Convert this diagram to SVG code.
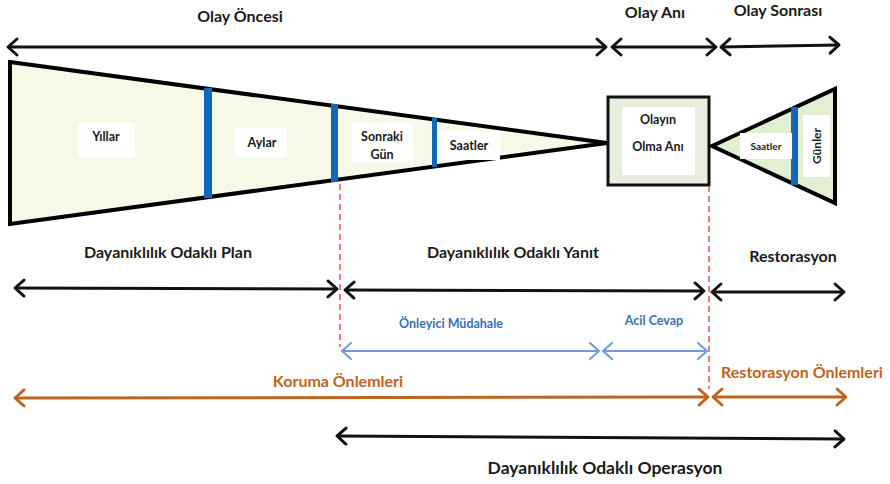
<svg xmlns="http://www.w3.org/2000/svg" width="890" height="484" viewBox="0 0 890 484">
<style>
text{font-family:Lato,"Open Sans","Liberation Sans",sans-serif;font-weight:bold;text-anchor:middle}
.blk{fill:#1a1a1a}
.lbl{font-size:16px}
.small{font-size:12.5px}
.mid{font-size:12px}
.tiny{font-size:10px}
.blue{fill:#3572b8}
.orange{fill:#c0621e}
.shape{stroke:#000;stroke-width:4;stroke-linejoin:miter}
.bar{fill:#1268b8}
.box{fill:#fff}
.ak{stroke:#111;stroke-width:3;fill:none}
.ab{stroke:#6b9bd8;stroke-width:2;fill:none}
.ao{stroke:#bf6420;stroke-width:3;fill:none}
.dash{stroke:#ee4b55;stroke-width:1.5;stroke-dasharray:6 4;fill:none}
</style>
<defs>
<marker id="mk" markerUnits="userSpaceOnUse" markerWidth="20" markerHeight="24" refX="11" refY="12" orient="auto-start-reverse" overflow="visible">
<path d="M2,4 L11,12 L2,20" fill="none" stroke="#111" stroke-width="3" stroke-linecap="round" stroke-linejoin="round"/>
</marker>
<marker id="mb" markerUnits="userSpaceOnUse" markerWidth="20" markerHeight="24" refX="11" refY="12" orient="auto-start-reverse" overflow="visible">
<path d="M2,4 L11,12 L2,20" fill="none" stroke="#6b9bd8" stroke-width="2" stroke-linecap="round" stroke-linejoin="round"/>
</marker>
<marker id="mo" markerUnits="userSpaceOnUse" markerWidth="20" markerHeight="24" refX="11" refY="12" orient="auto-start-reverse" overflow="visible">
<path d="M2,4 L11,12 L2,20" fill="none" stroke="#bf6420" stroke-width="3" stroke-linecap="round" stroke-linejoin="round"/>
</marker>
</defs>
<rect width="890" height="484" fill="#fff"/>

<g id="headings">
<text class="blk lbl" x="240" y="22">Olay Öncesi</text>
<text class="blk lbl" x="655" y="18">Olay Anı</text>
<text class="blk lbl" x="778" y="16">Olay Sonrası</text>
</g>

<g id="pre-event">
<polygon class="shape" points="10,62 607,143 10,224" fill="#f5f9e7"/>
<rect class="bar" x="204" y="88" width="8" height="110"/>
<rect class="bar" x="331" y="104" width="7" height="78"/>
<rect class="bar" x="432" y="118" width="5" height="49"/>
<rect class="box" x="78" y="123" width="57" height="34"/>
<text class="blk small" x="106" y="141">Yıllar</text>
<rect class="box" x="235" y="128" width="52" height="29"/>
<text class="blk small" x="262" y="147">Aylar</text>
<rect class="box" x="352" y="123" width="61" height="40"/>
<text class="blk small" x="382" y="141">Sonraki</text>
<text class="blk small" x="382" y="159">Gün</text>
<rect class="box" x="438" y="131" width="62" height="29"/>
<text class="blk small" x="469" y="150">Saatler</text>
</g>

<g id="event">
<rect x="608" y="97" width="101" height="88" fill="#e8eedd" stroke="#111" stroke-width="3"/>
<rect class="box" x="622" y="107" width="73" height="68"/>
<text class="blk small" x="658" y="124">Olayın</text>
<text class="blk small" x="658" y="151">Olma Anı</text>
</g>

<g id="post-event">
<polygon class="shape" points="712,146 835,89 835,203" fill="#e2efd3"/>
<rect class="bar" x="791" y="107" width="7" height="78"/>
<rect class="box" x="740" y="133" width="52" height="26"/>
<text class="blk tiny" x="766" y="150">Saatler</text>
<rect class="box" x="803" y="115" width="27" height="62"/>
<text class="blk mid" transform="translate(821,146) rotate(-90)">Günler</text>
</g>

<g id="labels">
<text class="blk lbl" x="168" y="258">Dayanıklılık Odaklı Plan</text>
<text class="blk lbl" x="513" y="258">Dayanıklılık Odaklı Yanıt</text>
<text class="blk lbl" x="793" y="262">Restorasyon</text>
<text class="blue small" x="451" y="328">Önleyici Müdahale</text>
<text class="blue small" x="654" y="325">Acil Cevap</text>
<text class="orange lbl" x="338" y="387">Koruma Önlemleri</text>
<text class="orange lbl" x="802" y="378">Restorasyon Önlemleri</text>
<text class="blk" style="font-size:17.5px" x="605" y="474">Dayanıklılık Odaklı Operasyon</text>
</g>

<g id="connectors">
<line class="dash" x1="340" y1="184" x2="340" y2="347"/>
<line class="dash" x1="709" y1="186" x2="709" y2="389"/>
<line class="ak" x1="8" y1="47" x2="606" y2="47" marker-start="url(#mk)" marker-end="url(#mk)"/>
<line class="ak" x1="612" y1="47" x2="716" y2="47" marker-start="url(#mk)" marker-end="url(#mk)"/>
<line class="ak" x1="721" y1="47" x2="839" y2="45" marker-start="url(#mk)" marker-end="url(#mk)"/>
<line class="ak" x1="15" y1="288" x2="337" y2="289" marker-start="url(#mk)" marker-end="url(#mk)"/>
<line class="ak" x1="345" y1="290" x2="704" y2="291" marker-start="url(#mk)" marker-end="url(#mk)"/>
<line class="ak" x1="712" y1="292" x2="844" y2="292" marker-start="url(#mk)" marker-end="url(#mk)"/>
<line class="ab" x1="342" y1="351" x2="599" y2="351" marker-start="url(#mb)" marker-end="url(#mb)"/>
<line class="ab" x1="603" y1="351" x2="707" y2="351" marker-start="url(#mb)" marker-end="url(#mb)"/>
<line class="ao" x1="15" y1="398" x2="708" y2="397" marker-start="url(#mo)" marker-end="url(#mo)"/>
<line class="ao" x1="713" y1="397" x2="846" y2="397" marker-start="url(#mo)" marker-end="url(#mo)"/>
<line class="ak" x1="337" y1="436" x2="844" y2="439" marker-start="url(#mk)" marker-end="url(#mk)"/>
</g>
</svg>
